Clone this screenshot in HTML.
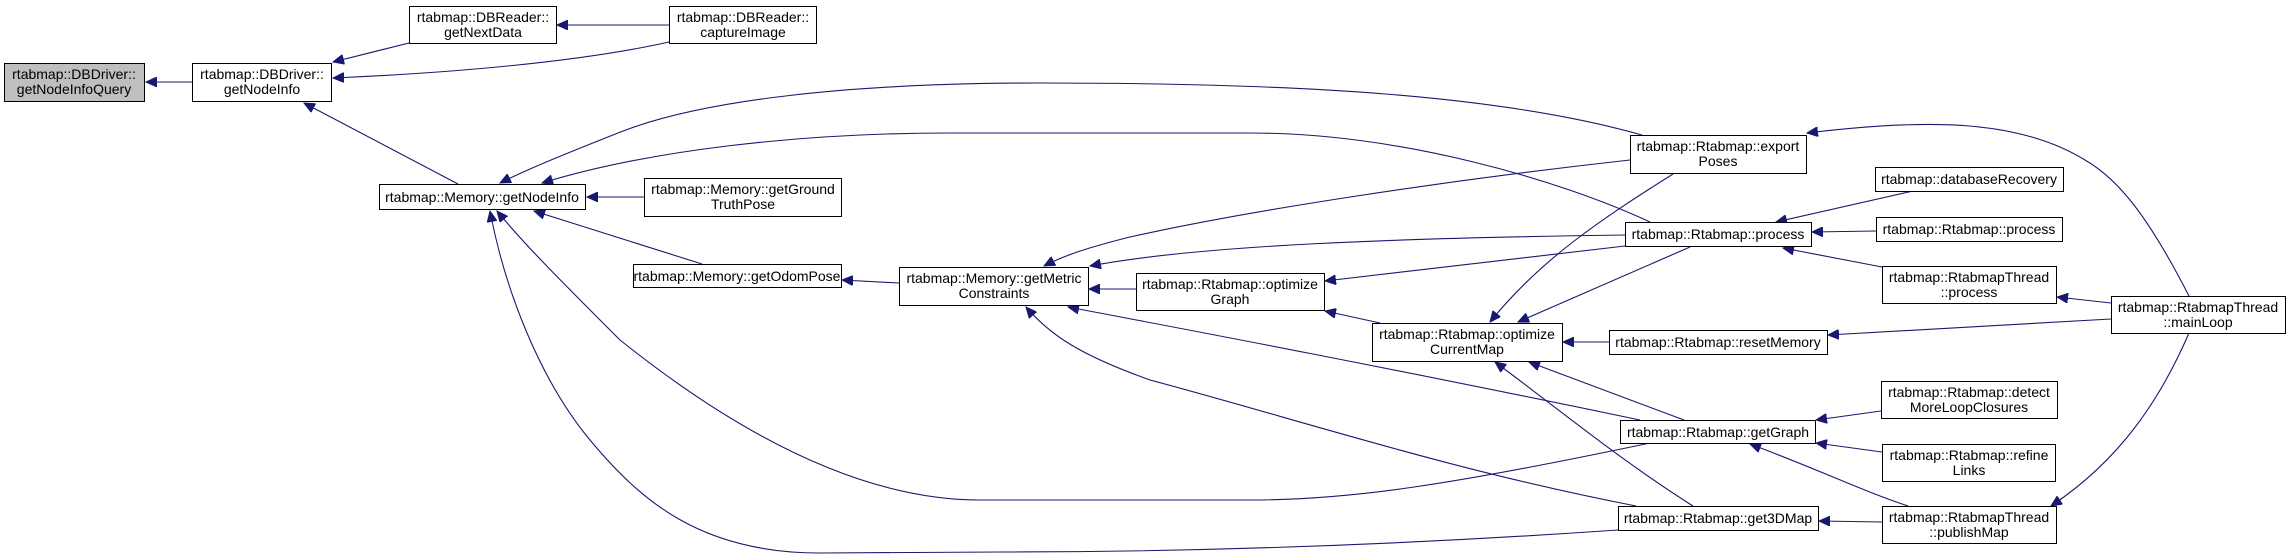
<!DOCTYPE html>
<html><head><meta charset="utf-8"><style>
html,body{margin:0;padding:0;background:#fff;}
svg{display:block;}
text{font-family:"Liberation Sans",Helvetica,Arial,sans-serif;font-size:14px;fill:#000;text-anchor:middle;}
.b{fill:#fff;stroke:#000;stroke-width:1;}
.e{fill:none;stroke:#191970;stroke-width:1.1;marker-end:url(#a);}
</style></head><body>
<svg width="2291" height="559" viewBox="0 0 2291 559" xmlns="http://www.w3.org/2000/svg">
<defs><marker id="a" markerUnits="userSpaceOnUse" markerWidth="12" markerHeight="10" refX="11" refY="5" orient="auto"><path d="M0,0 L11,5 L0,10 Z" fill="#191970" stroke="#191970"/></marker></defs>

<path class="e" d="M192,82 L146,82"/>
<path class="e" d="M409,43 L333,62"/>
<path class="e" d="M669,42 C580,62 450,73 333,78"/>
<path class="e" d="M669,25 L557,25"/>
<path class="e" d="M458,184 L304,103"/>
<path class="e" d="M644,197 L587,197"/>
<path class="e" d="M702,264 L534,211"/>
<path class="e" d="M1642,135 C1500,95 1300,83 1040,83 C850,83 700,100 618,133 C570,152 530,168 500,183"/>
<path class="e" d="M1650,222 C1560,180 1400,133 1250,133 L950,133 C800,133 650,150 542,183"/>
<path class="e" d="M1650,443 C1450,485 1350,500 1250,500 L980,500 C850,500 720,420 620,340 C560,280 525,245 497,211"/>
<path class="e" d="M1618,530 C1400,545 1200,552 1000,552 L820,553 C700,553 640,500 590,440 C540,380 505,290 490,211"/>
<path class="e" d="M899,283 L842,280"/>
<path class="e" d="M1136,289 L1089,289"/>
<path class="e" d="M1630,160 C1450,180 1250,210 1130,237 C1090,247 1065,255 1044,266"/>
<path class="e" d="M1625,235 C1400,238 1200,245 1090,266"/>
<path class="e" d="M1625,246 L1325,281"/>
<path class="e" d="M1380,323 L1325,311"/>
<path class="e" d="M1640,420 C1400,370 1200,332 1068,307"/>
<path class="e" d="M1636,506 C1450,470 1300,420 1150,380 C1080,355 1050,335 1026,307"/>
<path class="e" d="M1673,174 C1600,220 1540,260 1490,322"/>
<path class="e" d="M1690,247 L1518,322"/>
<path class="e" d="M1609,342 L1563,342"/>
<path class="e" d="M1684,420 L1529,362"/>
<path class="e" d="M1693,506 C1620,460 1560,410 1495,362"/>
<path class="e" d="M1913,191 L1776,222"/>
<path class="e" d="M1876,231 L1812,232"/>
<path class="e" d="M1882,267 L1783,248"/>
<path class="e" d="M2111,303 L2057,297"/>
<path class="e" d="M2189,296 C2150,220 2120,180 2085,160 C2020,120 1930,118 1807,133"/>
<path class="e" d="M2111,319 L1828,335"/>
<path class="e" d="M2189,333 C2160,400 2120,460 2051,506"/>
<path class="e" d="M1881,411 L1816,420"/>
<path class="e" d="M1882,452 L1816,443"/>
<path class="e" d="M1908,506 C1860,490 1820,470 1750,444"/>
<path class="e" d="M1882,522 L1819,521"/>

<rect x="4.5" y="63.5" width="140" height="38" style="fill:#bfbfbf;stroke:#000"/>
<text x="74" y="79">rtabmap::DBDriver::</text><text x="74" y="94">getNodeInfoQuery</text>

<rect class="b" x="192.5" y="63.5" width="139" height="38"/>
<text x="262" y="79">rtabmap::DBDriver::</text><text x="262" y="94">getNodeInfo</text>

<rect class="b" x="409.5" y="6.5" width="147" height="37"/>
<text x="483" y="22">rtabmap::DBReader::</text><text x="483" y="37">getNextData</text>

<rect class="b" x="669.5" y="6.5" width="147" height="37"/>
<text x="743" y="22">rtabmap::DBReader::</text><text x="743" y="37">captureImage</text>

<rect class="b" x="379.5" y="184.5" width="206" height="25"/>
<text x="482" y="202">rtabmap::Memory::getNodeInfo</text>

<rect class="b" x="644.5" y="178.5" width="197" height="38"/>
<text x="743" y="194">rtabmap::Memory::getGround</text><text x="743" y="209">TruthPose</text>

<rect class="b" x="633.5" y="264.5" width="208" height="23"/>
<text x="737" y="281">rtabmap::Memory::getOdomPose</text>

<rect class="b" x="899.5" y="267.5" width="189" height="38"/>
<text x="994" y="283">rtabmap::Memory::getMetric</text><text x="994" y="298">Constraints</text>

<rect class="b" x="1136.5" y="273.5" width="188" height="37"/>
<text x="1230" y="289">rtabmap::Rtabmap::optimize</text><text x="1230" y="304">Graph</text>

<rect class="b" x="1372.5" y="323.5" width="190" height="38"/>
<text x="1467" y="339">rtabmap::Rtabmap::optimize</text><text x="1467" y="354">CurrentMap</text>

<rect class="b" x="1630.5" y="135.5" width="176" height="38"/>
<text x="1718" y="151">rtabmap::Rtabmap::export</text><text x="1718" y="166">Poses</text>

<rect class="b" x="1625.5" y="222.5" width="186" height="24"/>
<text x="1718" y="239">rtabmap::Rtabmap::process</text>

<rect class="b" x="1609.5" y="330.5" width="218" height="24"/>
<text x="1718" y="347">rtabmap::Rtabmap::resetMemory</text>

<rect class="b" x="1620.5" y="420.5" width="195" height="23"/>
<text x="1718" y="437">rtabmap::Rtabmap::getGraph</text>

<rect class="b" x="1618.5" y="506.5" width="200" height="24"/>
<text x="1718" y="523">rtabmap::Rtabmap::get3DMap</text>

<rect class="b" x="1875.5" y="167.5" width="188" height="24"/>
<text x="1969" y="184">rtabmap::databaseRecovery</text>

<rect class="b" x="1876.5" y="217.5" width="186" height="24"/>
<text x="1969" y="234">rtabmap::Rtabmap::process</text>

<rect class="b" x="1882.5" y="266.5" width="174" height="37"/>
<text x="1969" y="282">rtabmap::RtabmapThread</text><text x="1969" y="297">::process</text>

<rect class="b" x="2111.5" y="296.5" width="174" height="37"/>
<text x="2198" y="312">rtabmap::RtabmapThread</text><text x="2198" y="327">::mainLoop</text>

<rect class="b" x="1881.5" y="381.5" width="176" height="37"/>
<text x="1969" y="397">rtabmap::Rtabmap::detect</text><text x="1969" y="412">MoreLoopClosures</text>

<rect class="b" x="1882.5" y="444.5" width="173" height="37"/>
<text x="1969" y="460">rtabmap::Rtabmap::refine</text><text x="1969" y="475">Links</text>

<rect class="b" x="1882.5" y="506.5" width="174" height="37"/>
<text x="1969" y="522">rtabmap::RtabmapThread</text><text x="1969" y="537">::publishMap</text>
</svg>
</body></html>
